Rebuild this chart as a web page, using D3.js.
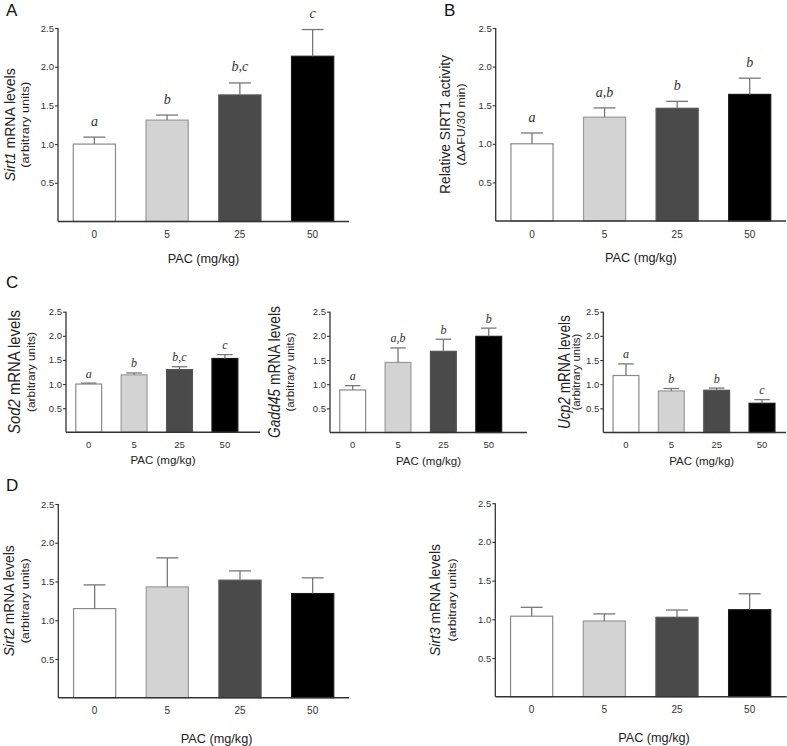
<!DOCTYPE html>
<html>
<head>
<meta charset="utf-8">
<script src="https://cdn.jsdelivr.net/npm/d3@7"></script>
<style>
  html, body { margin: 0; padding: 0; background: #fff; }
  svg { display: block; font-family: "Liberation Sans", Arial, sans-serif; }
</style>
</head>
<body>
<svg id="chart" width="787" height="746"></svg>
<script>
// ---------------- data ----------------
const categories = ["0", "5", "25", "50"];
const yTicks = [0.5, 1.0, 1.5, 2.0, 2.5];
const xTitle = "PAC (mg/kg)";

const sirt1Means   = [1.00, 1.31, 1.635, 2.135];
const sirt1Errors  = [0.09, 0.065, 0.155, 0.345];
const sirt1Letters = ["a", "b", "b,c", "c"];

const activityMeans   = [1.00, 1.345, 1.46, 1.64];
const activityErrors  = [0.14, 0.12, 0.09, 0.21];
const activityLetters = ["a", "a,b", "b", "b"];

const sod2Means   = [1.00, 1.19, 1.30, 1.53];
const sod2Errors  = [0.02, 0.04, 0.06, 0.08];
const sod2Letters = ["a", "b", "b,c", "c"];

const gadd45Means   = [0.88, 1.45, 1.68, 1.99];
const gadd45Errors  = [0.09, 0.30, 0.25, 0.17];
const gadd45Letters = ["a", "a,b", "b", "b"];

const ucp2Means   = [1.18, 0.86, 0.875, 0.605];
const ucp2Errors  = [0.24, 0.05, 0.045, 0.075];
const ucp2Letters = ["a", "b", "b", "c"];

const sirt2Means  = [1.15, 1.43, 1.517, 1.344];
const sirt2Errors = [0.306, 0.375, 0.12, 0.203];

const sirt3Means  = [1.04, 0.978, 1.026, 1.124];
const sirt3Errors = [0.115, 0.092, 0.094, 0.206];

// ---------------- styles ----------------
const barFills   = ["#ffffff", "#d3d3d3", "#4a4a4a", "#000000"];
const barStrokes = ["#8a8a8a", "#9a9a9a", "#555555", "#1a1a1a"];
const axisColor = "#333";

const svg = d3.select("#chart");

function drawPanel(p) {
  const g = svg.append("g");
  const y = d3.scaleLinear().domain([0, 2.5]).range([p.baseY, p.topY]);
  const x = d3.scaleBand().domain(categories).range([p.axisX, p.bandEnd]).paddingInner(p.pad).paddingOuter(p.pad / 2);
  const bw = x.bandwidth();

  // bars
  g.selectAll("rect.bar").data(p.means).enter().append("rect")
    .attr("x", (d, i) => x(categories[i]))
    .attr("y", d => y(d))
    .attr("width", bw)
    .attr("height", d => y(0) - y(d))
    .attr("fill", (d, i) => barFills[i])
    .attr("stroke", (d, i) => barStrokes[i])
    .attr("stroke-width", 1.2);

  // error bars (upper only)
  const capW = bw * p.cap;
  p.means.forEach((m, i) => {
    const cx = x(categories[i]) + bw / 2;
    const top = y(m + p.errors[i]);
    g.append("line").attr("x1", cx).attr("x2", cx).attr("y1", y(m)).attr("y2", top)
      .attr("stroke", "#777").attr("stroke-width", 1.3);
    g.append("line").attr("x1", cx - capW / 2).attr("x2", cx + capW / 2).attr("y1", top).attr("y2", top)
      .attr("stroke", "#777").attr("stroke-width", 1.3);
    if (p.letters) {
      g.append("text").attr("x", cx).attr("y", top - p.letterGap)
        .attr("text-anchor", "middle")
        .attr("font-family", "'Liberation Serif', 'Times New Roman', serif")
        .attr("font-style", "italic")
        .attr("font-size", p.letterSize)
        .attr("fill", "#333")
        .text(p.letters[i]);
    }
  });

  // y axis
  const yAxis = d3.axisLeft(y).tickValues(yTicks).tickFormat(d3.format(".1f")).tickSize(3).tickSizeOuter(0);
  const ya = g.append("g").attr("transform", `translate(${p.axisX},0)`).call(yAxis);
  ya.select(".domain").remove();
  ya.selectAll(".tick line").attr("stroke", axisColor).attr("stroke-width", 1.1);
  ya.selectAll(".tick text").attr("font-size", p.tickSize).attr("fill", "#333")
    .attr("font-family", "'Liberation Sans', Arial, sans-serif").attr("x", -4);
  g.append("line").attr("x1", p.axisX).attr("x2", p.axisX).attr("y1", y(2.5)).attr("y2", y(0))
    .attr("stroke", axisColor).attr("stroke-width", 1.3);

  // x axis
  g.append("line").attr("x1", p.axisX).attr("x2", p.xEnd).attr("y1", y(0)).attr("y2", y(0))
    .attr("stroke", axisColor).attr("stroke-width", 1.4);
  const xAxis = d3.axisBottom(x).tickSize(0).tickPadding(0);
  const xa = g.append("g").attr("transform", `translate(0,${p.baseY})`).call(xAxis);
  xa.select(".domain").remove();
  xa.selectAll(".tick text").attr("font-size", p.xTickSize).attr("fill", "#333")
    .attr("font-family", "'Liberation Sans', Arial, sans-serif")
    .attr("dy", null).attr("y", p.xTickOff).attr("dominant-baseline", "central");

  g.append("text").attr("x", (p.axisX + p.xEnd) / 2 + (p.titleShift || 0)).attr("y", p.baseY + p.titleOff)
    .attr("text-anchor", "middle").attr("dominant-baseline", "central")
    .attr("font-size", p.titleSize).attr("fill", "#222").text(xTitle);

  // y labels
  const midY = (y(0) + y(2.5)) / 2;
  const t1 = g.append("text").attr("transform", `translate(${p.lab1X},${midY}) rotate(-90)`)
    .attr("text-anchor", "middle").attr("dominant-baseline", "central")
    .attr("font-size", p.lab1Size).attr("fill", "#222")
    .attr("textLength", p.len1).attr("lengthAdjust", "spacingAndGlyphs");
  if (p.gene) {
    t1.append("tspan").attr("font-style", "italic").text(p.gene);
    t1.append("tspan").text(" mRNA levels");
  } else {
    t1.text(p.label1);
  }
  g.append("text").attr("transform", `translate(${p.lab2X},${midY}) rotate(-90)`)
    .attr("text-anchor", "middle").attr("dominant-baseline", "central")
    .attr("font-size", p.lab2Size).attr("fill", "#222")
    .attr("textLength", p.len2).attr("lengthAdjust", "spacingAndGlyphs")
    .text(p.label2);
}

const big = { pad: 0.42, cap: 0.52, tickSize: 9.5, xTickSize: 10, titleSize: 12.7, lab1Size: 15, lab2Size: 11.5, letterSize: 14, letterGap: 11.5, xTickOff: 13, titleOff: 37 };
const small = { pad: 0.43, cap: 0.6, tickSize: 9.5, xTickSize: 9.5, titleSize: 11.5, lab1Size: 16, lab2Size: 10.5, letterSize: 12, letterGap: 5.5, xTickOff: 12, titleOff: 28 };

drawPanel(Object.assign({}, big, { axisX: 58, bandEnd: 349, xEnd: 349, baseY: 221.5, topY: 28,
  means: sirt1Means, errors: sirt1Errors, letters: sirt1Letters, gene: "Sirt1", label2: "(arbitrary units)", lab1X: 9, lab2X: 25, len1: 113, len2: 86 }));
drawPanel(Object.assign({}, big, { axisX: 495.7, bandEnd: 786, xEnd: 786, baseY: 221, topY: 28, letterGap: 11,
  means: activityMeans, errors: activityErrors, letters: activityLetters, label1: "Relative SIRT1 activity", label2: "(\u0394AFU/30 min)", lab1X: 444, lab2X: 461, len1: 139, len2: 82 }));

drawPanel(Object.assign({}, small, { axisX: 66, bandEnd: 247.6, xEnd: 260, baseY: 432.3, topY: 311.7,
  means: sod2Means, errors: sod2Errors, letters: sod2Letters, gene: "Sod2", label2: "(arbitrary units)", lab1X: 14, lab2X: 31, len1: 124, len2: 80 }));
drawPanel(Object.assign({}, small, { axisX: 330, bandEnd: 511.4, xEnd: 527, baseY: 432.5, topY: 311.7,
  means: gadd45Means, errors: gadd45Errors, letters: gadd45Letters, gene: "Gadd45", label2: "(arbitrary units)", lab1X: 273.5, lab2X: 290, len1: 132, len2: 79 }));
drawPanel(Object.assign({}, small, { axisX: 603.3, bandEnd: 784.7, xEnd: 786, baseY: 432.5, topY: 311.7, titleShift: 7,
  means: ucp2Means, errors: ucp2Errors, letters: ucp2Letters, gene: "Ucp2", label2: "(arbitrary units)", lab1X: 563.5, lab2X: 576, len1: 114, len2: 77 }));

drawPanel(Object.assign({}, big, { axisX: 58.3, bandEnd: 349, xEnd: 349, baseY: 697.7, topY: 504, titleOff: 41.5, titleShift: 13,
  means: sirt2Means, errors: sirt2Errors, gene: "Sirt2", label2: "(arbitrary units)", lab1X: 8, lab2X: 25, len1: 111, len2: 85 }));
drawPanel(Object.assign({}, big, { axisX: 495.3, bandEnd: 786, xEnd: 786.7, baseY: 696.7, topY: 503.2, titleOff: 41.5, titleShift: 13,
  means: sirt3Means, errors: sirt3Errors, gene: "Sirt3", label2: "(arbitrary units)", lab1X: 434, lab2X: 452, len1: 112, len2: 83 }));

// panel letters
const panelLetters = [["A", 6, 10], ["B", 444, 10], ["C", 6, 282], ["D", 6, 485]];
svg.selectAll("text.plabel").data(panelLetters).enter().append("text")
  .attr("class", "plabel")
  .attr("x", d => d[1]).attr("y", d => d[2])
  .attr("dominant-baseline", "central")
  .attr("font-size", 17).attr("fill", "#111").text(d => d[0]);
</script>
</body>
</html>
